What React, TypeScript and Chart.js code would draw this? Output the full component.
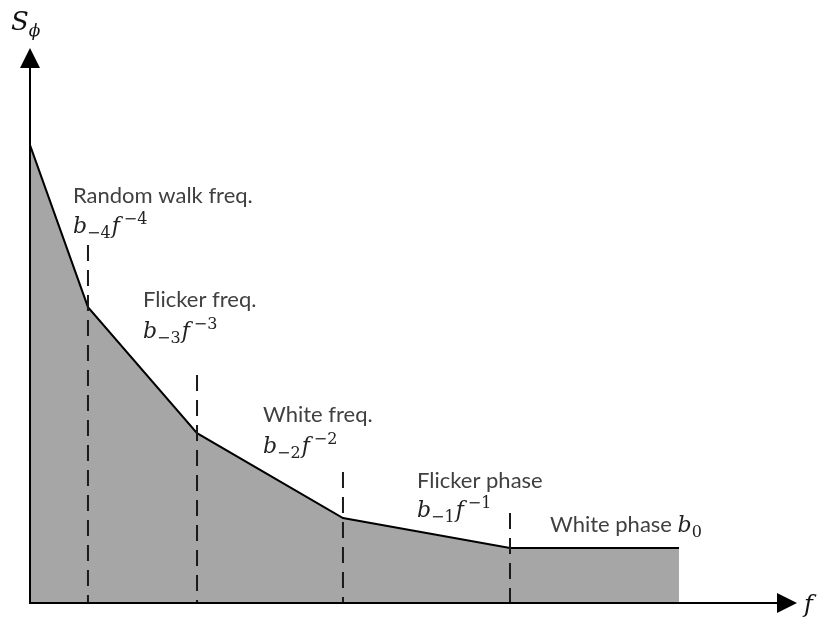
import { useEffect, useRef } from 'react';
import { Chart, registerables } from 'chart.js';

Chart.register(...registerables);

// Spectrum vertices (frequency position, level)
const freqX = [0, 7.73, 22.27, 41.73, 64, 86.53];
const spectrum = [82.5, 53.3, 30.6, 15.3, 9.9, 9.9];
// Region dividers
const dividerX = [7.73, 22.27, 41.73, 64];
const dividerTop = [64.5, 41.1, 23.6, 16.2];
// Region labels
const regionNames = ['Random walk freq.', 'Flicker freq.', 'White freq.', 'Flicker phase', 'White phase'];
const regionExponents = [-4, -3, -2, -1, 0];
const labelX = [5.73, 15.07, 31.07, 51.6, 69.33];
const labelY = [72.1, 53.3, 32.6, 20.7, 12.8];
const mathY = [66.7, 47.7, 27.0, 15.5, 12.8];

const TEXT_FONT = '22px Lato';
const TEXT_COLOR = '#404040';
const MATH_COLOR = '#222222';
const MATH_IT = 'italic 22px "DejaVu Serif"';
const MATH_SCRIPT = '16px "DejaVu Serif"';

function fmt(n: number) {
  return n < 0 ? '\u2212' + Math.abs(n) : String(n);
}

function drawPiece(ctx: CanvasRenderingContext2D, text: string, font: string, x: number, y: number) {
  ctx.font = font;
  ctx.fillText(text, x, y);
  return ctx.measureText(text).width;
}

function drawTerm(ctx: CanvasRenderingContext2D, x: number, y: number, exp: number) {
  ctx.fillStyle = MATH_COLOR;
  ctx.textBaseline = 'alphabetic';
  ctx.textAlign = 'left';
  let cx = x;
  cx += drawPiece(ctx, 'b', MATH_IT, cx, y);
  cx += drawPiece(ctx, fmt(exp), MATH_SCRIPT, cx, y + 5);
  if (exp !== 0) {
    cx += 1;
    cx += drawPiece(ctx, 'f', MATH_IT, cx, y);
    cx += 4;
    cx += drawPiece(ctx, fmt(exp), MATH_SCRIPT, cx, y - 9);
  }
  return cx - x;
}

const overlay = {
  id: 'overlay',
  afterDraw(chart: any) {
    const { ctx, chartArea, scales } = chart;
    const xs = scales.x;
    const ys = scales.y;
    const x0 = xs.getPixelForValue(0);
    const y0 = ys.getPixelForValue(0);
    const top = chartArea.top;
    const tipX = chartArea.right + 17;
    ctx.save();
    // axes
    ctx.strokeStyle = '#000';
    ctx.fillStyle = '#000';
    ctx.lineWidth = 2;
    ctx.beginPath();
    ctx.moveTo(x0, y0 + 1);
    ctx.lineTo(x0, top + 19);
    ctx.moveTo(x0 - 1, y0);
    ctx.lineTo(tipX - 19, y0);
    ctx.stroke();
    ctx.beginPath();
    ctx.moveTo(x0, top);
    ctx.lineTo(x0 - 10, top + 20);
    ctx.lineTo(x0 + 10, top + 20);
    ctx.closePath();
    ctx.fill();
    ctx.beginPath();
    ctx.moveTo(tipX, y0);
    ctx.lineTo(tipX - 20, y0 - 10);
    ctx.lineTo(tipX - 20, y0 + 10);
    ctx.closePath();
    ctx.fill();
    // axis titles
    ctx.fillStyle = '#111';
    ctx.textAlign = 'left';
    ctx.textBaseline = 'alphabetic';
    const w = drawPiece(ctx, 'S', 'italic 26px "DejaVu Serif"', x0 - 19, top - 18);
    drawPiece(ctx, '\u03d5', 'italic 17px "DejaVu Serif"', x0 - 19 + w, top - 12);
    drawPiece(ctx, 'f', 'italic 24px "DejaVu Serif"', tipX + 7, y0 + 9);
    // region labels
    regionNames.forEach((name, i) => {
      const px = xs.getPixelForValue(labelX[i]);
      const py = ys.getPixelForValue(labelY[i]);
      ctx.fillStyle = TEXT_COLOR;
      ctx.font = TEXT_FONT;
      ctx.fillText(name, px, py);
      const tw = ctx.measureText(name + ' ').width;
      const my = ys.getPixelForValue(mathY[i]);
      if (regionExponents[i] === 0) {
        drawTerm(ctx, px + tw, my, regionExponents[i]);
      } else {
        drawTerm(ctx, px, my, regionExponents[i]);
      }
    });
    ctx.restore();
  },
};

export default function App() {
  const ref = useRef<HTMLCanvasElement>(null);
  useEffect(() => {
    if (!ref.current) return;
    const dividerSets = dividerX.map((x, i) => ({
      data: [
        { x, y: dividerTop[i] },
        { x, y: 0 },
      ],
      borderColor: '#1a1a1a',
      borderWidth: 2,
      borderDash: [16, 9],
      borderCapStyle: 'butt',
      pointRadius: 0,
      fill: false,
      clip: false,
      order: 1,
    }));
    const chart = new Chart(ref.current, {
      type: 'line',
      data: {
        datasets: [
          {
            data: freqX.map((x, i) => ({ x, y: spectrum[i] })),
            borderColor: '#000',
            borderWidth: 2,
            backgroundColor: '#a6a6a6',
            fill: 'origin',
            tension: 0,
            pointRadius: 0,
            clip: false,
            order: 2,
          } as any,
          ...(dividerSets as any[]),
        ],
      },
      options: {
        animation: false,
        responsive: false,
        layout: { padding: { left: 30, right: 38, top: 48, bottom: 16 } },
        scales: {
          x: { type: 'linear', min: 0, max: 100, display: false },
          y: { type: 'linear', min: 0, max: 100, display: false },
        },
        plugins: { legend: { display: false }, tooltip: { enabled: false } },
      },
      plugins: [overlay],
    });
    return () => chart.destroy();
  }, []);
  return (
    <div style={{ position: 'absolute', left: 0, top: 0, width: 818, height: 619, background: '#fff' }}>
      <canvas ref={ref} width={818} height={619} style={{ display: 'block' }} />
    </div>
  );
}
